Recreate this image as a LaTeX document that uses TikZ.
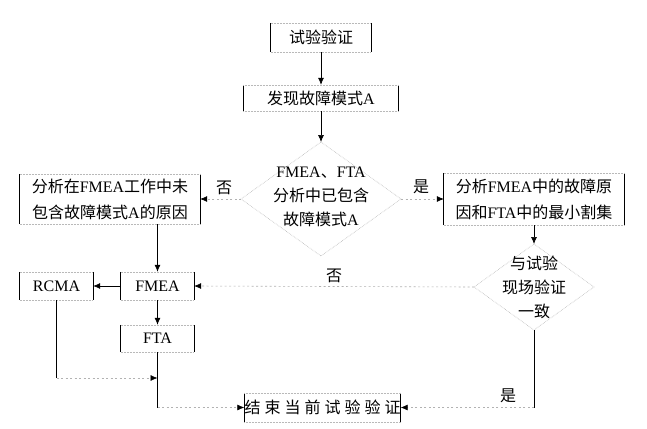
\documentclass[tikz,border=0pt]{standalone}
\usepackage{fontspec}
\setmainfont{Liberation Serif}
\newfontfamily\cjk{Noto Sans CJK SC}
\usetikzlibrary{arrows.meta}
\newcommand\boxsides[1]{%
  \draw[line width=0.8pt] (#1.north west) -- (#1.south west) (#1.north east) -- (#1.south east);
  \draw[gray!55, line width=0.5pt, densely dotted] (#1.north west) -- (#1.north east) (#1.south west) -- (#1.south east);}
\begin{document}
\begin{tikzpicture}[x=1pt,y=-1pt,
  box/.style={inner sep=0pt, align=center, font=\fontsize{16}{26}\selectfont},
  dtext/.style={inner sep=0pt, align=center, font=\fontsize{16}{24}\selectfont},
  lbl/.style={inner sep=0pt, font=\cjk\fontsize{16}{16}\selectfont},
  arr/.style={draw=black, line width=0.7pt, -{Latex[length=7pt,width=6pt]}},
  plain/.style={draw=black, line width=0.7pt},
  faint/.style={draw=gray!60, line width=0.6pt, dash pattern=on 2pt off 2.5pt},
  faintarr/.style={faint, -{Latex[color=black,length=7pt,width=6pt]}},
  dia/.style={draw=gray!55, line width=0.6pt, densely dotted}]
\useasboundingbox (0,0) rectangle (647,428);
\fill[white] (0,0) rectangle (647,428);

% boxes
\node[box, minimum width=100pt, minimum height=29pt] (t1) at (321,37.5) {\cjk 试验验证};
\node[box, minimum width=155pt, minimum height=26pt] (t2) at (321,98) {{\cjk 发现故障模式}A};
\node[box, minimum width=180pt, minimum height=50pt] (L) at (110,199) {{\cjk 分析在}FMEA{\cjk 工作中未}\\{\cjk 包含故障模式}A{\cjk 的原因}};
\node[box, minimum width=180pt, minimum height=52pt] (R) at (534,199) {{\cjk 分析}FMEA{\cjk 中的故障原}\\{\cjk 因和}FTA{\cjk 中的最小割集}};
\node[box, minimum width=73pt, minimum height=28pt] (RCMA) at (56.5,286) {RCMA};
\node[box, minimum width=73pt, minimum height=28pt] (FMEA) at (157.5,286) {FMEA};
\node[box, minimum width=73pt, minimum height=27pt] (FTA) at (157.5,338.5) {FTA};
\node[box, minimum width=155pt, minimum height=29pt] (E) at (322.5,407.5) {\cjk 结\hspace{4pt}束\hspace{4pt}当\hspace{4pt}前\hspace{4pt}试\hspace{4pt}验\hspace{4pt}验\hspace{4pt}证};
\foreach \b in {t1,t2,L,R,RCMA,FMEA,FTA,E} {\boxsides{\b}}

% diamond 1
\coordinate (d1t) at (321,142);
\coordinate (d1r) at (401,199);
\coordinate (d1b) at (321,256);
\coordinate (d1l) at (241,199);
\draw[dia] (d1t) -- (d1r) -- (d1b) -- (d1l) -- cycle;
\node[dtext] (d1) at (321,197) {FMEA{\cjk 、}FTA\\{\cjk 分析中已包含}\\{\cjk 故障模式}A};

% diamond 2
\coordinate (d2t) at (534,244);
\coordinate (d2r) at (594,287);
\coordinate (d2b) at (534,330);
\coordinate (d2l) at (474,287);
\draw[dia] (d2t) -- (d2r) -- (d2b) -- (d2l) -- cycle;
\node[dtext] (d2) at (534,287) {{\cjk 与试验}\\{\cjk 现场验证}\\{\cjk 一致}};

% labels
\node[lbl] (n1) at (224,188) {否};
\node[lbl] (n2) at (421,187) {是};
\node[lbl] (n3) at (334,276) {否};
\node[lbl] (n4) at (508,396) {是};

% connectors
\draw[arr] (t1.south) -- (t2.north);
\draw[arr] (t2.south) -- (d1t);
\draw[faintarr] (d1l) -- (L.east);
\draw[faintarr] (d1r) -- (R.west);
\draw[arr] (R.south) -- (d2t);
\draw[faintarr] (d2l) -- (FMEA.east);
\draw[arr] (FMEA.north |- L.south) -- (FMEA.north);
\draw[arr] (FMEA.west) -- (RCMA.east);
\draw[arr] (FMEA.south) -- (FTA.north);
\coordinate (j) at (157.5,378);
\draw[plain] (RCMA.south) -- (RCMA.south |- j);
\draw[faintarr] (RCMA.south |- j) -- (j);
\draw[plain] (FTA.south) -- (FTA.south |- E.west);
\draw[faintarr] (FTA.south |- E.west) -- (E.west);
\draw[plain] (d2b) -- (d2b |- E.east);
\draw[faintarr] (d2b |- E.east) -- (E.east);
\end{tikzpicture}
\end{document}
